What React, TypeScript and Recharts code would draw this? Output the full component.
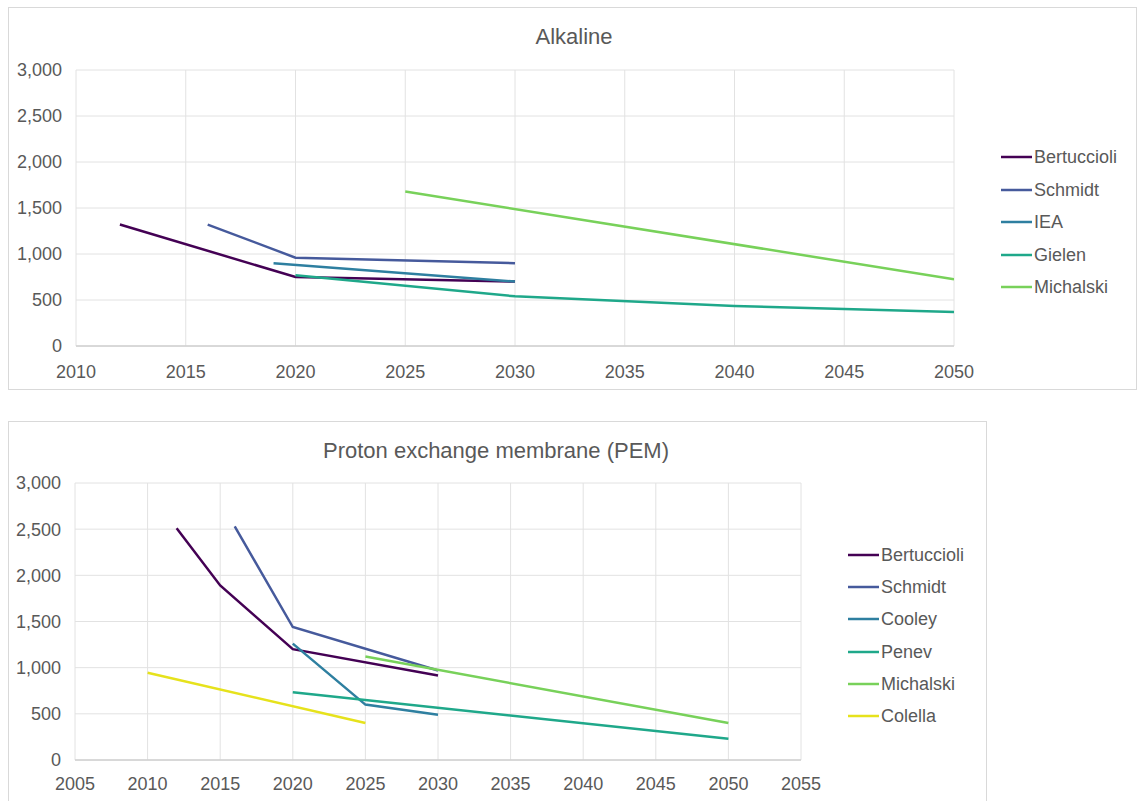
import { LineChart, Line, XAxis, YAxis, CartesianGrid, Legend } from "recharts";

// Alkaline series (year, cost)
const alkBertuccioli = [
  { year: 2012, cost: 1320 },
  { year: 2020, cost: 750 },
  { year: 2030, cost: 700 },
];
const alkSchmidt = [
  { year: 2016, cost: 1320 },
  { year: 2020, cost: 960 },
  { year: 2030, cost: 900 },
];
const alkIEA = [
  { year: 2019, cost: 900 },
  { year: 2030, cost: 700 },
];
const alkGielen = [
  { year: 2020, cost: 770 },
  { year: 2030, cost: 540 },
  { year: 2040, cost: 435 },
  { year: 2050, cost: 370 },
];
const alkMichalski = [
  { year: 2025, cost: 1680 },
  { year: 2050, cost: 725 },
];

// PEM series
const pemBertuccioli = [
  { year: 2012, cost: 2510 },
  { year: 2015, cost: 1890 },
  { year: 2020, cost: 1200 },
  { year: 2030, cost: 915 },
];
const pemSchmidt = [
  { year: 2016, cost: 2530 },
  { year: 2020, cost: 1440 },
  { year: 2030, cost: 970 },
];
const pemCooley = [
  { year: 2020, cost: 1260 },
  { year: 2025, cost: 600 },
  { year: 2030, cost: 490 },
];
const pemPenev = [
  { year: 2020, cost: 735 },
  { year: 2050, cost: 230 },
];
const pemMichalski = [
  { year: 2025, cost: 1120 },
  { year: 2050, cost: 400 },
];
const pemColella = [
  { year: 2010, cost: 945 },
  { year: 2025, cost: 400 },
];

const alkYearTicks = [2010, 2015, 2020, 2025, 2030, 2035, 2040, 2045, 2050];
const pemYearTicks = [2005, 2010, 2015, 2020, 2025, 2030, 2035, 2040, 2045, 2050, 2055];
const costTicks = [0, 500, 1000, 1500, 2000, 2500, 3000];

const C_BERT = "#440154";
const C_SCHM = "#465a9c";
const C_BLUE = "#2e7fa0";
const C_TEAL = "#1fa88a";
const C_GREEN = "#78d15a";
const C_YELLOW = "#e6e21c";

interface Series {
  name: string;
  data: { year: number; cost: number }[];
  color: string;
}

const alkalineSeries: Series[] = [
  { name: "Bertuccioli", data: alkBertuccioli, color: C_BERT },
  { name: "Schmidt", data: alkSchmidt, color: C_SCHM },
  { name: "IEA", data: alkIEA, color: C_BLUE },
  { name: "Gielen", data: alkGielen, color: C_TEAL },
  { name: "Michalski", data: alkMichalski, color: C_GREEN },
];

const pemSeries: Series[] = [
  { name: "Bertuccioli", data: pemBertuccioli, color: C_BERT },
  { name: "Schmidt", data: pemSchmidt, color: C_SCHM },
  { name: "Cooley", data: pemCooley, color: C_BLUE },
  { name: "Penev", data: pemPenev, color: C_TEAL },
  { name: "Michalski", data: pemMichalski, color: C_GREEN },
  { name: "Colella", data: pemColella, color: C_YELLOW },
];

const TEXT = "#595959";
const GRID = "#e2e2e2";
const FRAME = "#d9d9d9";

function LegendList({ items, rowHeight }: { items: Series[]; rowHeight: number }) {
  return (
    <div>
      {items.map((s) => (
        <div key={s.name} style={{ display: "flex", alignItems: "center", height: rowHeight }}>
          <svg width={31} height={4} style={{ display: "block" }}>
            <line x1={0} x2={31} y1={2} y2={2} stroke={s.color} strokeWidth={2.5} />
          </svg>
          <span style={{ marginLeft: 2, fontSize: 18, color: TEXT, lineHeight: "20px" }}>{s.name}</span>
        </div>
      ))}
    </div>
  );
}

interface PanelProps {
  title: string;
  series: Series[];
  xTicks: number[];
  left: number;
  top: number;
  width: number;
  height: number;
  margin: { top: number; right: number; bottom: number; left: number };
  titleX: number;
  titleTop: number;
  legendLeft: number;
  legendTop: number;
  rowHeight: number;
  frameHeight: number;
  xTickMargin: number;
  noBottomBorder?: boolean;
}

function Panel(p: PanelProps) {
  return (
    <>
      <div
        style={{
          position: "absolute",
          left: p.left,
          top: p.top,
          width: p.width - 2,
          height: p.frameHeight,
          border: `1px solid ${FRAME}`,
          borderBottom: p.noBottomBorder ? "none" : `1px solid ${FRAME}`,
          background: "#fff",
        }}
      />
      <div
        style={{
          position: "absolute",
          left: p.titleX - 300,
          width: 600,
          top: p.titleTop,
          textAlign: "center",
          fontSize: 22,
          lineHeight: "22px",
          color: TEXT,
        }}
      >
        {p.title}
      </div>
      <div style={{ position: "absolute", left: p.left, top: p.top }}>
        <LineChart width={p.width} height={p.height} margin={p.margin}>
          <CartesianGrid stroke={GRID} strokeWidth={1} />
          <XAxis
            dataKey="year"
            type="number"
            domain={[p.xTicks[0], p.xTicks[p.xTicks.length - 1]]}
            ticks={p.xTicks}
            interval={0}
            allowDataOverflow
            height={30}
            tickLine={false}
            tickSize={0}
            tickMargin={p.xTickMargin}
            axisLine={{ stroke: "#d0d0d0", strokeWidth: 1.5 }}
            tick={{ fill: TEXT, fontSize: 18 }}
          />
          <YAxis
            type="number"
            domain={[0, 3000]}
            ticks={costTicks}
            interval={0}
            width={60}
            tickLine={false}
            tickSize={0}
            tickMargin={14}
            axisLine={false}
            tick={{ fill: TEXT, fontSize: 18 }}
            tickFormatter={(v: number) => v.toLocaleString("en-US")}
          />
          {p.series.map((s) => (
            <Line
              key={s.name}
              data={s.data}
              dataKey="cost"
              name={s.name}
              type="linear"
              stroke={s.color}
              strokeWidth={2.5}
              dot={false}
              activeDot={false}
              isAnimationActive={false}
            />
          ))}
          <Legend
            layout="vertical"
            align="center"
            verticalAlign="middle"
            wrapperStyle={{ left: p.legendLeft, top: p.legendTop, width: 140 }}
            content={() => <LegendList items={p.series} rowHeight={p.rowHeight} />}
          />
        </LineChart>
      </div>
    </>
  );
}

export default function App() {
  return (
    <div
      style={{
        position: "fixed",
        left: 0,
        top: 0,
        width: 1137,
        height: 801,
        overflow: "hidden",
        background: "#fff",
        fontFamily: "'Liberation Sans', Arial, sans-serif",
      }}
    >
      <Panel
        title="Alkaline"
        series={alkalineSeries}
        xTicks={alkYearTicks}
        left={8}
        top={7}
        width={1129}
        height={383}
        frameHeight={381}
        margin={{ top: 63, right: 183, bottom: 14, left: 8 }}
        titleX={574}
        titleTop={26}
        legendLeft={993}
        legendTop={134}
        rowHeight={32.5}
        xTickMargin={19}
      />
      <Panel
        title="Proton exchange membrane (PEM)"
        series={pemSeries}
        xTicks={pemYearTicks}
        left={8}
        top={421}
        width={979}
        height={383}
        frameHeight={390}
        noBottomBorder
        margin={{ top: 62, right: 186, bottom: 14, left: 7 }}
        titleX={496}
        titleTop={440}
        legendLeft={840}
        legendTop={118}
        rowHeight={32.2}
        xTickMargin={17}
      />
    </div>
  );
}
